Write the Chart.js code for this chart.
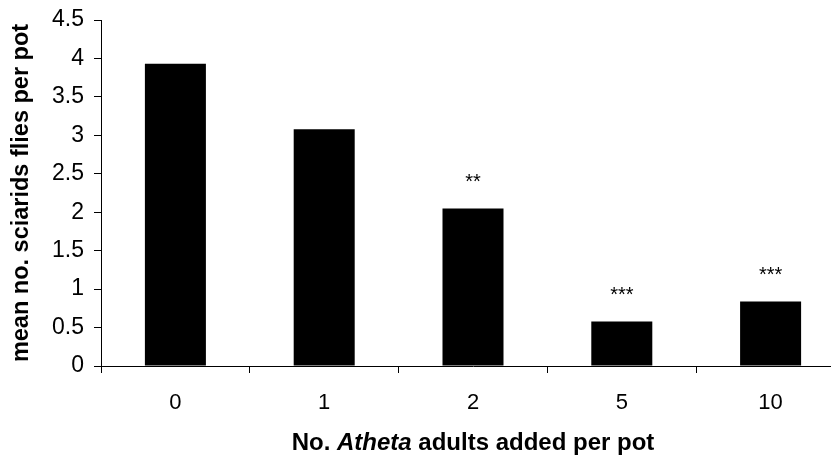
<!DOCTYPE html>
<html>
<head>
<meta charset="utf-8">
<script src="https://cdn.jsdelivr.net/npm/chart.js@4/dist/chart.umd.min.js"></script>
<style>
  html, body { margin: 0; padding: 0; background: #fff; overflow: hidden; }
  #wrap { width: 846px; height: 459px; position: relative; }
</style>
</head>
<body>
<div id="wrap"><canvas id="chart"></canvas></div>
<script>
// Number of Atheta adults added per pot
const categories = ['0', '1', '2', '5', '10'];
// Mean number of sciarid flies per pot
const meanFlies = [3.93, 3.08, 2.05, 0.58, 0.84];
// Significance markers shown above each bar
const significance = ['', '', '**', '***', '***'];
// Value axis range
const yMin = 0;
const yMax = 4.5;
const yStep = 0.5;

const yTitle = 'mean no. sciarids flies per pot';
const xTitleParts = [
  { text: 'No. ', style: 'bold' },
  { text: 'Atheta', style: 'italic bold' },
  { text: ' adults added per pot', style: 'bold' }
];

const FONT = '"Liberation Sans", Arial, sans-serif';

const annotations = {
  id: 'annotations',
  afterDatasetsDraw(chart) {
    const ctx = chart.ctx;
    const meta = chart.getDatasetMeta(0);
    ctx.save();
    ctx.fillStyle = '#000';
    ctx.font = '20px ' + FONT;
    ctx.textAlign = 'center';
    ctx.textBaseline = 'alphabetic';
    meta.data.forEach((bar, i) => {
      if (significance[i]) ctx.fillText(significance[i], bar.x, bar.y - 20);
    });
    ctx.restore();
  },
  afterDraw(chart) {
    const ctx = chart.ctx;
    const area = chart.chartArea;
    ctx.save();
    ctx.fillStyle = '#000';
    // x-axis title with italic genus name
    const size = 24;
    let total = 0;
    xTitleParts.forEach(p => { ctx.font = p.style + ' ' + size + 'px ' + FONT; p.w = ctx.measureText(p.text).width; total += p.w; });
    const cx = (area.left + area.right) / 2;
    let x = cx - total / 2;
    ctx.textBaseline = 'middle';
    ctx.textAlign = 'left';
    xTitleParts.forEach(p => { ctx.font = p.style + ' ' + size + 'px ' + FONT; ctx.fillText(p.text, x, 443); x += p.w; });
    // y-axis title
    ctx.translate(22, (area.top + area.bottom) / 2);
    ctx.rotate(-Math.PI / 2);
    ctx.font = 'bold 23.5px ' + FONT;
    ctx.textAlign = 'center';
    ctx.fillText(yTitle, 0, 0);
    ctx.restore();
  }
};

new Chart(document.getElementById('chart'), {
  type: 'bar',
  data: {
    labels: categories,
    datasets: [{
      data: meanFlies,
      backgroundColor: '#000',
      borderWidth: 0,
      categoryPercentage: 1.0,
      barPercentage: 0.41
    }]
  },
  options: {
    responsive: true,
    maintainAspectRatio: false,
    animation: false,
    layout: { padding: { top: 20, right: 1, left: 0, bottom: 0 } },
    plugins: { legend: { display: false }, tooltip: { enabled: false } },
    scales: {
      x: {
        offset: true,
        grid: { offset: true, drawOnChartArea: false, drawTicks: true, tickLength: 7, color: '#000', lineWidth: 1 },
        border: { color: '#000', width: 1 },
        ticks: { color: '#000', font: { family: FONT, size: 22 }, padding: 17, maxRotation: 0 },
        afterFit(scale) { scale.height = 93; }
      },
      y: {
        min: yMin,
        max: yMax,
        ticks: {
          stepSize: yStep, color: '#000', font: { family: FONT, size: 23 }, padding: 10,
          callback: v => String(Math.round(v * 10) / 10)
        },
        grid: { drawOnChartArea: false, drawTicks: true, tickLength: 7, color: '#000', lineWidth: 1 },
        border: { color: '#000', width: 1 },
        afterFit(scale) { scale.width = 101; scale.paddingTop = 0; scale.paddingBottom = 0; }
      }
    }
  },
  plugins: [annotations]
});
</script>
</body>
</html>
